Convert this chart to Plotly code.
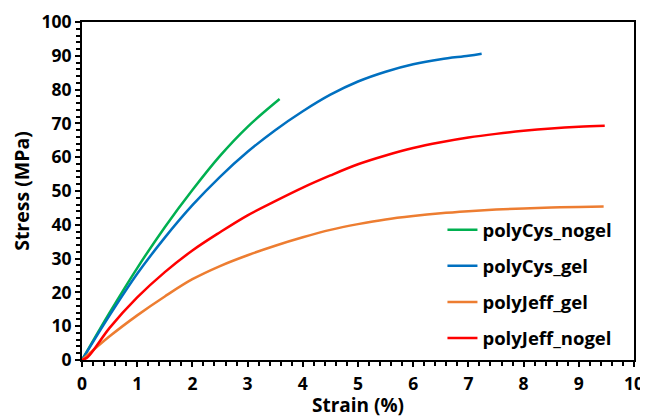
import plotly.graph_objects as go

# Data (strain %, stress MPa)
cys_nogel_x = [0, 0.5, 1.0, 1.5, 2.0, 2.5, 3.0, 3.58]
cys_nogel_y = [0, 14.0, 27.2, 39.3, 50.3, 60.4, 69.0, 77.2]

cys_gel_x = [0, 0.5, 1.0, 1.5, 2.0, 2.5, 3.0, 3.5, 4.0, 4.5, 5.0, 5.5, 6.0, 6.5, 7.0, 7.24]
cys_gel_y = [0, 13.2, 25.5, 36.2, 45.8, 54.2, 61.6, 68.0, 73.6, 78.5, 82.4, 85.3, 87.5, 89.0, 90.0, 90.6]

jeff_gel_x = [0, 0.5, 1.0, 1.5, 2.0, 2.5, 3.0, 3.5, 4.0, 4.5, 5.0, 5.5, 6.0, 6.5, 7.0, 7.5, 8.0, 8.5, 9.0, 9.45]
jeff_gel_y = [0, 7.0, 13.2, 18.8, 23.9, 27.8, 31.0, 33.8, 36.3, 38.5, 40.2, 41.6, 42.6, 43.4, 44.0, 44.5, 44.85, 45.1, 45.3, 45.4]

jeff_nogel_x = [0, 0.1, 0.5, 1.0, 1.5, 2.0, 2.5, 3.0, 3.5, 4.0, 4.5, 5.0, 5.5, 6.0, 6.5, 7.0, 7.5, 8.0, 8.5, 9.0, 9.47]
jeff_nogel_y = [0, 0.8, 9.5, 18.5, 26.0, 32.4, 37.8, 42.8, 47.0, 51.0, 54.6, 57.9, 60.5, 62.7, 64.4, 65.8, 66.9, 67.8, 68.5, 69.0, 69.3]

series = [
    ("polyCys_nogel", cys_nogel_x, cys_nogel_y, "#00B050"),
    ("polyCys_gel", cys_gel_x, cys_gel_y, "#0070C0"),
    ("polyJeff_gel", jeff_gel_x, jeff_gel_y, "#ED7D31"),
    ("polyJeff_nogel", jeff_nogel_x, jeff_nogel_y, "#FF0000"),
]

FONT = "Open Sans"

fig = go.Figure()
for name, xs, ys, col in series:
    fig.add_trace(go.Scatter(
        x=xs, y=ys, name=name, mode="lines",
        line=dict(color=col, width=2.5, shape="spline", smoothing=1.0),
        legendgroup=name,
    ))

axis_common = dict(
    showgrid=False, zeroline=False, automargin=False,
    showline=True, linecolor="black", linewidth=2,
    ticks="outside", ticklen=5, tickwidth=2, tickcolor="black",
    tickfont=dict(family=FONT, size=17.5, color="black", weight="bold"),
    mirror=True,
)

# The page body has an 8px default margin, so the figure is sized 640x410
fig.update_layout(
    width=640, height=410,
    margin=dict(l=74, r=14, t=14, b=58),
    paper_bgcolor="white", plot_bgcolor="white",
    font=dict(family=FONT, color="black"),
    showlegend=True,
    legend=dict(
        x=0.653, y=0.44, xanchor="left", yanchor="top",
        bgcolor="rgba(0,0,0,0)",
        font=dict(family=FONT, size=18.5, color="black", weight="bold"),
        traceorder="grouped", tracegroupgap=9,
        itemwidth=30,
    ),
    xaxis=dict(
        range=[0, 10], dtick=1, **axis_common,
        ticklabelstandoff=2,
        minor=dict(dtick=0.2, ticks="outside", ticklen=4, tickwidth=1.5, tickcolor="black"),
        title=dict(text="Strain (%)", font=dict(family=FONT, size=19, color="black", weight="bold"), standoff=5),
    ),
    yaxis=dict(
        range=[0, 100], dtick=10, **axis_common,
        minor=dict(dtick=2, ticks="outside", ticklen=4, tickwidth=1.5, tickcolor="black"),
        title=dict(text="Stress (MPa)", font=dict(family=FONT, size=19.5, color="black", weight="bold"), standoff=15),
    ),
    xaxis2=dict(
        overlaying="x", anchor="y", range=[0, 10], dtick=1, automargin=False,
        showgrid=False, zeroline=False, showline=False, showticklabels=False,
        ticks="inside", ticklen=5, tickwidth=2, tickcolor="black",
    ),
    yaxis2=dict(
        overlaying="y", anchor="x", range=[0, 100], dtick=10, automargin=False,
        showgrid=False, zeroline=False, showline=False, showticklabels=False,
        ticks="inside", ticklen=6, tickwidth=2, tickcolor="black",
    ),
)

fig.write_html("out.html")
